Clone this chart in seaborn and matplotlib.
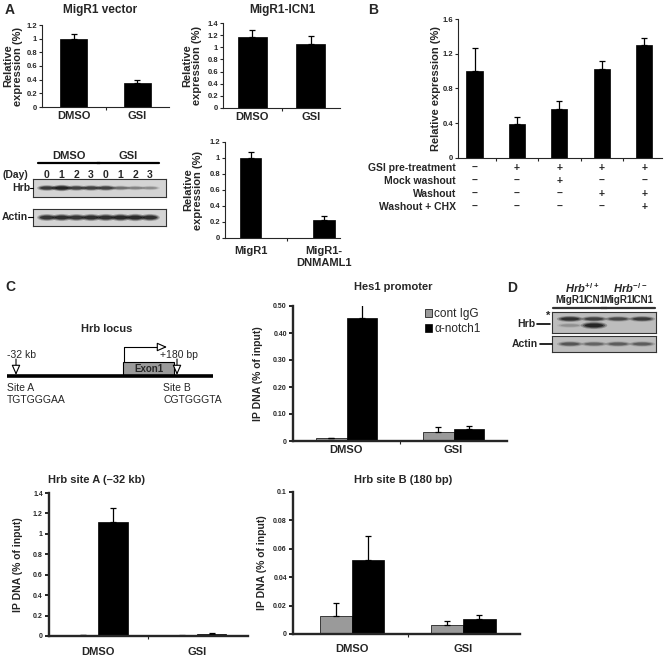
import numpy as np
import pandas as pd
import matplotlib
matplotlib.use("Agg")
import matplotlib.pyplot as plt
import seaborn as sns
from matplotlib.patches import Rectangle, Ellipse
from matplotlib.transforms import blended_transform_factory as blend

# ---------------- data ----------------
# A: relative Hrb expression
treatments = ["DMSO", "GSI"]
vector_mean = [1.00, 0.35]
vector_err = [0.07, 0.05]
icn1_mean = [1.17, 1.06]
icn1_err = [0.12, 0.12]
dnmaml_groups = ["MigR1", "MigR1-\nDNMAML1"]
dnmaml_mean = [1.00, 0.22]
dnmaml_err = [0.07, 0.05]

# A: western blot, band darkness 0-1
day_labels = ["0", "1", "2", "3", "0", "1", "2", "3"]
blot_a_hrb = [0.8, 1.0, 0.75, 0.75, 0.75, 0.45, 0.35, 0.3]
blot_a_actin = [0.85, 0.9, 0.85, 0.9, 0.9, 0.95, 0.95, 0.9]

# B: washout experiment
wash_mean = [1.00, 0.39, 0.56, 1.03, 1.30]
wash_err = [0.27, 0.08, 0.10, 0.09, 0.08]
wash_rows = ["GSI pre-treatment", "Mock washout", "Washout", "Washout + CHX"]
wash_signs = [["–", "+", "+", "+", "+"],
              ["–", "–", "+", "–", "–"],
              ["–", "–", "–", "+", "+"],
              ["–", "–", "–", "–", "+"]]

# C: ChIP
antibodies = ["cont IgG", "α-notch1"]
hes1_igg = [0.010, 0.034]
hes1_igg_err = [0.002, 0.017]
hes1_notch = [0.455, 0.045]
hes1_notch_err = [0.060, 0.009]
site_a_igg = [0.008, 0.004]
site_a_igg_err = [0.003, 0.002]
site_a_notch = [1.12, 0.022]
site_a_notch_err = [0.13, 0.006]
site_b_igg = [0.0127, 0.0063]
site_b_igg_err = [0.0093, 0.0027]
site_b_notch = [0.052, 0.0106]
site_b_notch_err = [0.017, 0.0028]

# D: western blot
d_lanes = ["MigR1", "ICN1", "MigR1", "ICN1"]
d_genotypes = [r"$\mathit{Hrb}^{+/+}$", r"$\mathit{Hrb}^{-/-}$"]
d_nonspecific = [0.85, 0.7, 0.65, 0.75]
d_hrb = [0.2, 0.95, 0.0, 0.0]
d_actin = [0.55, 0.45, 0.5, 0.5]

# ---------------- style ----------------
sns.set_theme(style="ticks")
plt.rcParams["font.family"] = ["Liberation Sans", "DejaVu Sans"]
plt.rcParams["font.weight"] = "bold"
plt.rcParams["axes.labelweight"] = "bold"
plt.rcParams["mathtext.fontset"] = "custom"
plt.rcParams["mathtext.it"] = "Liberation Sans:italic:bold"
plt.rcParams["mathtext.rm"] = "Liberation Sans:bold"

W, H = 665, 659
fig = plt.figure(figsize=(W / 100, H / 100), dpi=100)


def pxbox(x0, y0, x1, y1):
    return fig.add_axes([x0 / W, 1 - y1 / H, (x1 - x0) / W, (y1 - y0) / H])


def ftext(x, y, s, **kw):
    kw.setdefault("ha", "center")
    kw.setdefault("va", "center")
    fig.text(x / W, 1 - y / H, s, **kw)


def add_errors(ax, errs):
    for cont, err in zip(ax.containers, errs):
        for bar, e in zip(cont, err):
            ax.errorbar(bar.get_x() + bar.get_width() / 2, bar.get_height(),
                        yerr=[[0], [e]], fmt="none", ecolor="black",
                        elinewidth=0.9, capsize=2.5, capthick=0.9)


def excel_bars(box, cats, mean, err, ylim, yticks, width, xlim, ylab, ylab_x,
               lab_pad=3, bounds=(0.5,)):
    ax = pxbox(*box)
    df = pd.DataFrame({"group": cats, "value": mean})
    sns.barplot(data=df, x="group", y="value", color="black", width=width,
                errorbar=None, edgecolor="black", linewidth=0.5, ax=ax)
    add_errors(ax, [err])
    ax.set_xlim(*xlim)
    ax.set_ylim(*ylim)
    ax.set_yticks(yticks)
    ax.set_yticklabels([f"{t:g}" for t in yticks])
    ax.set_xlabel("")
    ax.set_ylabel(ylab, fontsize=8, linespacing=1.0)
    ax.yaxis.set_label_coords((ylab_x - box[0]) / (box[2] - box[0]), 0.5)
    sns.despine(ax=ax)
    for s in ["left", "bottom"]:
        ax.spines[s].set_linewidth(0.8)
    ax.tick_params(axis="y", labelsize=5.5, length=2.5, width=0.8, pad=1)
    ax.tick_params(axis="x", which="major", labelsize=8, length=0, pad=lab_pad)
    ax.set_xticks(list(bounds), minor=True)
    ax.tick_params(axis="x", which="minor", length=2.5, width=0.8)
    return ax


def chip_bars(box, igg, igg_err, notch, notch_err, ylim, yticks, labels, xlim,
              width, ylab_x, lab_pad):
    ax = pxbox(*box)
    df = pd.DataFrame({"treatment": treatments * 2,
                       "antibody": [antibodies[0]] * 2 + [antibodies[1]] * 2,
                       "value": igg + notch})
    sns.barplot(data=df, x="treatment", y="value", hue="antibody",
                palette=["#9a9a9a", "black"], width=width, errorbar=None,
                edgecolor="black", linewidth=0.5, legend=False, ax=ax)
    add_errors(ax, [igg_err, notch_err])
    ax.set_xlim(*xlim)
    ax.set_ylim(*ylim)
    ax.set_yticks(yticks)
    ax.set_yticklabels(labels)
    ax.set_xlabel("")
    ax.set_ylabel("IP DNA (% of input)", fontsize=7.5)
    ax.yaxis.set_label_coords((ylab_x - box[0]) / (box[2] - box[0]), 0.5)
    sns.despine(ax=ax)
    for s in ["left", "bottom"]:
        ax.spines[s].set_linewidth(1.7)
    ax.tick_params(axis="y", labelsize=5, length=3, width=1.4, pad=1.5)
    ax.tick_params(axis="x", which="major", labelsize=8, length=0, pad=lab_pad)
    ax.set_xticks([0.5], minor=True)
    ax.tick_params(axis="x", which="minor", length=2.5, width=0.8)
    return ax


def draw_blot(box, lanes, bands, xlim, bg, spread=1.1):
    # bands: list of (y centre, height, darkness per lane)
    ax = pxbox(*box)
    ax.set_xlim(*xlim)
    ax.set_ylim(0, 1)
    ax.set_facecolor(bg)
    for yc, h, dark in bands:
        for x, v in zip(lanes, dark):
            if v <= 0:
                continue
            hh = h * (0.6 + 0.5 * v)
            for sx, sy, a in [(spread, 1.0, 0.25), (spread * 0.85, 0.75, 0.4),
                              (spread * 0.7, 0.5, 0.6)]:
                ax.add_patch(Ellipse((x, yc), sx, hh * sy, color="black",
                                     alpha=min(1, a * v), lw=0))
    ax.set_xticks([])
    ax.set_yticks([])
    for s in ax.spines.values():
        s.set_linewidth(0.8)
        s.set_color("#333333")
    return ax


# ---------------- panel A ----------------
ftext(5, 10, "A", fontsize=10, ha="left")
ftext(100, 10, "MigR1 vector", fontsize=8.5)
ftext(282, 10, "MigR1-ICN1", fontsize=8.5)

excel_bars((42, 25, 169, 107), treatments, vector_mean, vector_err, (0, 1.2),
           [0, 0.2, 0.4, 0.6, 0.8, 1.0, 1.2], 0.43, (-0.5, 1.5),
           "Relative\nexpression (%)", 23)
excel_bars((223, 23, 340, 108), treatments, icn1_mean, icn1_err, (0, 1.4),
           [0, 0.2, 0.4, 0.6, 0.8, 1.0, 1.2, 1.4], 0.49, (-0.5, 1.5),
           "Relative\nexpression (%)", 202)
excel_bars((225, 142, 340, 238), dnmaml_groups, dnmaml_mean, dnmaml_err,
           (0, 1.2), [0, 0.2, 0.4, 0.6, 0.8, 1.0, 1.2], 0.29, (-0.35, 1.22),
           "Relative\nexpression (%)", 203, lab_pad=6)

# western blot A
lane_x = np.arange(len(day_labels))
blot_xlim = (-0.95, 8.09)
ax_h = draw_blot((33, 179, 166, 197), lane_x, [(0.5, 0.32, blot_a_hrb)],
                 blot_xlim, "#d4d4d4", spread=1.35)
ax_a = draw_blot((33, 209, 166, 226), lane_x, [(0.5, 0.4, blot_a_actin)],
                 blot_xlim, "#d4d4d4", spread=1.35)
tr = blend(ax_h.transData, fig.transFigure)
for x, d in zip(lane_x, day_labels):
    ax_h.text(x, 1 - 175 / H, d, transform=tr, ha="center", va="center",
              fontsize=7.5)
for name, lanes in zip(treatments, [lane_x[:4], lane_x[4:]]):
    ax_h.text(lanes.mean(), 1 - 156 / H, name, transform=tr, ha="center",
              va="center", fontsize=8)
    ax_h.plot([lanes[0] - 0.6, lanes[-1] + 0.6], [1 - 163 / H] * 2,
              transform=tr, color="black", lw=1.6, clip_on=False)
ftext(15, 175, "(Day)", fontsize=7.5)
ftext(30, 188, "Hrb", fontsize=7.5, ha="right")
ftext(28, 217, "Actin", fontsize=7.5, ha="right")
fig.add_artist(plt.Line2D([30 / W, 33 / W], [1 - 188 / H] * 2, color="black", lw=0.8))
fig.add_artist(plt.Line2D([28 / W, 33 / W], [1 - 217 / H] * 2, color="black", lw=0.8))

# ---------------- panel B ----------------
ftext(368, 10, "B", fontsize=10, ha="left")
conds = [f"c{i}" for i in range(len(wash_mean))]
ax_b = excel_bars((458, 19, 662, 158), conds, wash_mean, wash_err, (0, 1.6),
                  [0, 0.4, 0.8, 1.2, 1.6], 0.38, (-0.39, 4.42),
                  "Relative expression (%)", 441,
                  bounds=(0.5, 1.5, 2.5, 3.5))
ax_b.set_xticklabels([])
trb = blend(ax_b.transData, fig.transFigure)
for row, signs, py in zip(wash_rows, wash_signs, [168, 181, 194, 207]):
    ftext(456, py, row, fontsize=7.5, ha="right")
    for i, s in enumerate(signs):
        ax_b.text(i, 1 - py / H, s, transform=trb, ha="center", va="center",
                  fontsize=7.5)

# ---------------- panel C ----------------
ftext(5, 287, "C", fontsize=10, ha="left")

# Hrb locus schematic (pixel units)
axd = pxbox(0, 315, 230, 410)
axd.set_xlim(0, 230)
axd.set_ylim(410, 315)
axd.axis("off")
axd.text(107, 329, "Hrb locus", ha="center", va="center", fontsize=8)
axd.plot([7, 213], [376, 376], color="black", lw=2.6, solid_capstyle="butt")
axd.add_patch(Rectangle((123, 362), 51, 13, fc="#9a9a9a", ec="black", lw=0.8))
axd.text(148.5, 369, "Exon1", ha="center", va="center", fontsize=7)
axd.plot([123.5, 123.5, 159], [362, 347, 347], color="black", lw=0.8)
open_head = dict(arrowstyle="-|>,head_length=0.5,head_width=0.22",
                 fc="white", ec="black", lw=0.8, shrinkA=0, shrinkB=0)
axd.annotate("", xy=(167, 347), xytext=(158, 347), arrowprops=open_head)
for x, lab, tx in [(16, "-32 kb", 7), (177, "+180 bp", 160)]:
    axd.annotate("", xy=(x, 375), xytext=(x, 359), arrowprops=open_head)
    axd.text(tx, 355, lab, ha="left", va="center", fontsize=7.5,
             fontweight="normal")
for tx, site, seq in [(7, "Site A", "TGTGGGAA"), (163, "Site B", "CGTGGGTA")]:
    axd.text(tx, 388, site, ha="left", va="center", fontsize=7.5,
             fontweight="normal")
    axd.text(tx, 400, seq, ha="left", va="center", fontsize=7.5,
             fontweight="normal")

# Hes1 promoter
ftext(393, 287, "Hes1 promoter", fontsize=8)
ax_hes = chip_bars((293, 306, 507, 441), hes1_igg, hes1_igg_err, hes1_notch,
                   hes1_notch_err, (0, 0.5), [0, 0.1, 0.2, 0.3, 0.4, 0.5],
                   ["0", "0.10", "0.20", "0.30", "0.40", "0.50"], (-0.5, 1.5),
                   0.57, 263, 3)
handles = [Rectangle((0, 0), 1, 1, fc=c, ec="black", lw=0.5)
           for c in ["#9a9a9a", "black"]]
ax_hes.legend(handles, antibodies, loc="upper left",
              bbox_to_anchor=(425 / W, 1 - 308 / H),
              bbox_transform=fig.transFigure, frameon=False,
              handlelength=0.6, handleheight=0.6, handletextpad=0.2,
              labelspacing=0.25, borderpad=0, borderaxespad=0,
              prop=dict(size=8.5, weight="normal"))

# Hrb site A / site B
ftext(97, 480, "Hrb site A (–32 kb)", fontsize=8)
chip_bars((49, 493, 248, 636), site_a_igg, site_a_igg_err, site_a_notch,
          site_a_notch_err, (0, 1.4), [0, 0.2, 0.4, 0.6, 0.8, 1.0, 1.2, 1.4],
          ["0", "0.2", "0.4", "0.6", "0.8", "1", "1.2", "1.4"], (-0.5, 1.52),
          0.6, 23, 8)
ftext(403, 480, "Hrb site B (180 bp)", fontsize=8)
chip_bars((293, 492, 520, 634), site_b_igg, site_b_igg_err, site_b_notch,
          site_b_notch_err, (0, 0.1), [0, 0.02, 0.04, 0.06, 0.08, 0.1],
          ["0", "0.02", "0.04", "0.06", "0.08", "0.1"], (-0.53, 1.51),
          0.58, 267, 7)

# ---------------- panel D ----------------
ftext(507, 288, "D", fontsize=10, ha="left")
d_x = np.arange(len(d_lanes))
d_xlim = (-0.75, 3.58)
ax_dh = draw_blot((552, 312, 656, 333), d_x,
                  [(0.67, 0.28, d_nonspecific), (0.36, 0.32, d_hrb)],
                  d_xlim, "#bdbdbd")
draw_blot((552, 336, 656, 352), d_x, [(0.5, 0.4, d_actin)], d_xlim, "#bdbdbd")
trd = blend(ax_dh.transData, fig.transFigure)
for x, lab in zip(d_x, d_lanes):
    ax_dh.text(x, 1 - 300 / H, lab, transform=trd, ha="center", va="center",
               fontsize=7)
for geno, lanes in zip(d_genotypes, [d_x[:2], d_x[2:]]):
    ax_dh.text(lanes.mean(), 1 - 288 / H, geno, transform=trd, ha="center",
               va="center", fontsize=8)
    ax_dh.plot([lanes[0] - 0.7, lanes[-1] + 0.55], [1 - 308 / H] * 2,
               transform=trd, color="#333333", lw=1.6, clip_on=False)
ftext(535, 324, "Hrb", fontsize=7.5, ha="right")
ftext(548, 316, "*", fontsize=8)
ftext(538, 344, "Actin", fontsize=7.5, ha="right")
fig.add_artist(plt.Line2D([537 / W, 550 / W], [1 - 324 / H] * 2, color="black", lw=1.2))
fig.add_artist(plt.Line2D([540 / W, 552 / W], [1 - 344 / H] * 2, color="black", lw=1.2))

fig.savefig("out.png", dpi=100)
